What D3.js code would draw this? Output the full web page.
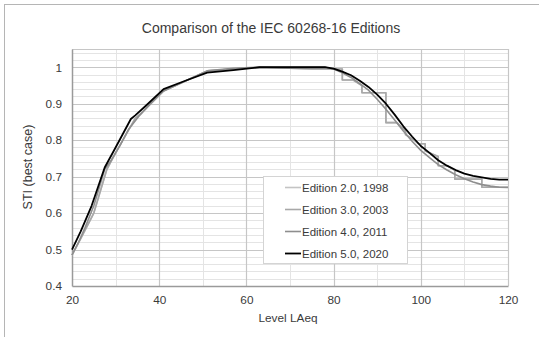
<!DOCTYPE html>
<html><head><meta charset="utf-8">
<script src="https://cdn.jsdelivr.net/npm/d3@7"></script>
<style>html,body{margin:0;padding:0;background:#fff}svg{display:block}text{font-family:"Liberation Sans",Arial,sans-serif;fill:#3a3a3a}</style>
</head><body>
<script>
const title = "Comparison of the IEC 60268-16 Editions";
const xLabel = "Level LAeq";
const yLabel = "STI (best case)";
const xTicks = [20, 40, 60, 80, 100, 120];
const yTicks = [0.4, 0.5, 0.6, 0.7, 0.8, 0.9, 1];
const seriesNames = ["Edition 2.0, 1998", "Edition 3.0, 2003", "Edition 4.0, 2011", "Edition 5.0, 2020"];
const seriesColors = ["#c4c4c4", "#a8a8a8", "#8e8e8e", "#000000"];

// Edition 2.0 / 3.0 (stepped masking table)
const ed2 = [[20,0.485],[22,0.53],[25,0.6],[28,0.72],[30,0.765],[34.5,0.86],[36,0.875],[41,0.935],[46,0.962],[51,0.99],[57,0.995],[63,1.0],[75,0.995],[82,0.995],[82,0.965],[84.5,0.965],[86.5,0.95],[86.5,0.93],[92,0.93],[92,0.848],[94.5,0.848],[96.5,0.825],[96.5,0.815],[98.5,0.80],[99.5,0.79],[101,0.79],[101,0.77],[104,0.755],[104,0.73],[106,0.73],[107.8,0.717],[107.8,0.693],[114,0.693],[114,0.671],[120,0.671]];
const ed3 = ed2;
// Edition 4.0
const ed4 = [[20,0.485],[21.5,0.52],[23,0.56],[25,0.62],[27.5,0.72],[29,0.745],[31,0.785],[33,0.83],[35.5,0.868],[38,0.9],[41,0.935],[46,0.962],[51,0.99],[57,0.997],[63,1.0],[78,1.0],[80,0.995],[82,0.985],[84,0.972],[86,0.955],[88,0.937],[90,0.912],[92,0.885],[94,0.855],[96,0.825],[98,0.797],[100,0.772],[102,0.752],[104,0.733],[106,0.718],[108,0.705],[110,0.694],[112,0.685],[114,0.678],[116,0.674],[118,0.671],[120,0.67]];
// Edition 5.0
const ed5 = [[20,0.50],[22,0.55],[24.5,0.62],[27.5,0.725],[30,0.78],[33.5,0.858],[34.5,0.868],[37,0.895],[41,0.94],[46,0.963],[51,0.985],[57,0.992],[63,1.0],[78,1.0],[80,0.996],[82,0.988],[84,0.978],[86,0.963],[88,0.946],[90,0.925],[92,0.9],[94,0.87],[96,0.838],[98,0.81],[100,0.784],[102,0.765],[104,0.745],[106,0.73],[108,0.718],[110,0.708],[112,0.702],[114,0.698],[116,0.694],[118,0.692],[120,0.692]];
const seriesData = [ed2, ed3, ed4, ed5];

const W = 539, H = 337;
const svg = d3.select("body").append("svg").attr("width", W).attr("height", H);
svg.append("rect").attr("width", W).attr("height", H).attr("fill", "#fff");
svg.append("rect").attr("x", 4.5).attr("y", 4.5).attr("width", W).attr("height", H)
  .attr("fill", "none").attr("stroke", "#b5b5b5");

const m = {l: 72, r: 508, t: 49, b: 286};
const x = d3.scaleLinear().domain([20, 120]).range([m.l, m.r]);
const y = d3.scaleLinear().domain([0.4, 1.05]).range([m.b, m.t]);

const g = svg.append("g");
// minor grid
const minorY = d3.range(0.42, 1.05, 0.02).filter(v => Math.abs(v*10 - Math.round(v*10)) > 0.01);
g.selectAll(".my").data(minorY).enter().append("line")
  .attr("x1", m.l).attr("x2", m.r).attr("y1", d => Math.round(y(d))+0.5).attr("y2", d => Math.round(y(d))+0.5)
  .attr("stroke", "#e4e4e4");
const minorX = [30, 50, 70, 90, 110];
g.selectAll(".mx").data(minorX).enter().append("line")
  .attr("y1", m.t).attr("y2", m.b).attr("x1", d => Math.round(x(d))+0.5).attr("x2", d => Math.round(x(d))+0.5)
  .attr("stroke", "#e4e4e4");
// major grid
g.selectAll(".gy").data(yTicks.slice(1)).enter().append("line")
  .attr("x1", m.l).attr("x2", m.r).attr("y1", d => Math.round(y(d))+0.5).attr("y2", d => Math.round(y(d))+0.5)
  .attr("stroke", "#c6c6c6").attr("stroke-width", 1.2);
g.selectAll(".gx").data(xTicks.slice(1)).enter().append("line")
  .attr("y1", m.t).attr("y2", m.b).attr("x1", d => Math.round(x(d))+0.5).attr("x2", d => Math.round(x(d))+0.5)
  .attr("stroke", "#c6c6c6").attr("stroke-width", 1.2);
// plot border
g.append("line").attr("x1", m.l).attr("x2", m.r).attr("y1", m.t+0.5).attr("y2", m.t+0.5).attr("stroke", "#c6c6c6").attr("stroke-width", 1.2);

// axes
const xAxis = svg.append("g").attr("transform", `translate(0,${m.b})`)
  .call(d3.axisBottom(x).tickValues(xTicks).tickSize(0).tickPadding(10).tickFormat(d3.format("d")));
const yAxis = svg.append("g").attr("transform", `translate(${m.l},0)`)
  .call(d3.axisLeft(y).tickValues(yTicks).tickSize(0).tickPadding(10).tickFormat(d => d === 1 ? "1" : d3.format(".1f")(d)));
[xAxis, yAxis].forEach(a => {
  a.select(".domain").attr("stroke", "#9a9a9a").attr("stroke-width", 1.5);
  a.selectAll("text").attr("font-size", 11.8).attr("fill", "#3a3a3a")
   .attr("font-family", "'Liberation Sans', Arial, sans-serif");
});

// lines
const line = d3.line().x(d => x(d[0])).y(d => y(d[1]));
const widths = [1.6, 1.6, 1.6, 1.8];
[0, 1, 2, 3].forEach(i => {
  svg.append("path").datum(seriesData[i]).attr("d", line)
    .attr("fill", "none").attr("stroke", seriesColors[i]).attr("stroke-width", widths[i])
    .attr("stroke-linejoin", "round");
});

// title and labels
svg.append("text").attr("x", 271).attr("y", 33).attr("text-anchor", "middle")
  .attr("font-size", 14).text(title);
svg.append("text").attr("x", 288).attr("y", 322).attr("text-anchor", "middle")
  .attr("font-size", 11.8).text(xLabel);
svg.append("text").attr("transform", "translate(32,167) rotate(-90)").attr("text-anchor", "middle")
  .attr("font-size", 12.5).text(yLabel);

// legend
const lg = svg.append("g");
lg.append("rect").attr("x", 263.5).attr("y", 176.5).attr("width", 144).attr("height", 87)
  .attr("fill", "#fff").attr("stroke", "#d4d4d4");
seriesNames.forEach((n, i) => {
  const yy = 187.5 + i * 22;
  lg.append("line").attr("x1", 285).attr("x2", 301).attr("y1", yy).attr("y2", yy)
    .attr("stroke", seriesColors[i]).attr("stroke-width", widths[i]);
  lg.append("text").attr("x", 302).attr("y", yy + 4).attr("font-size", 11.5).text(n);
});
</script>
</body></html>
